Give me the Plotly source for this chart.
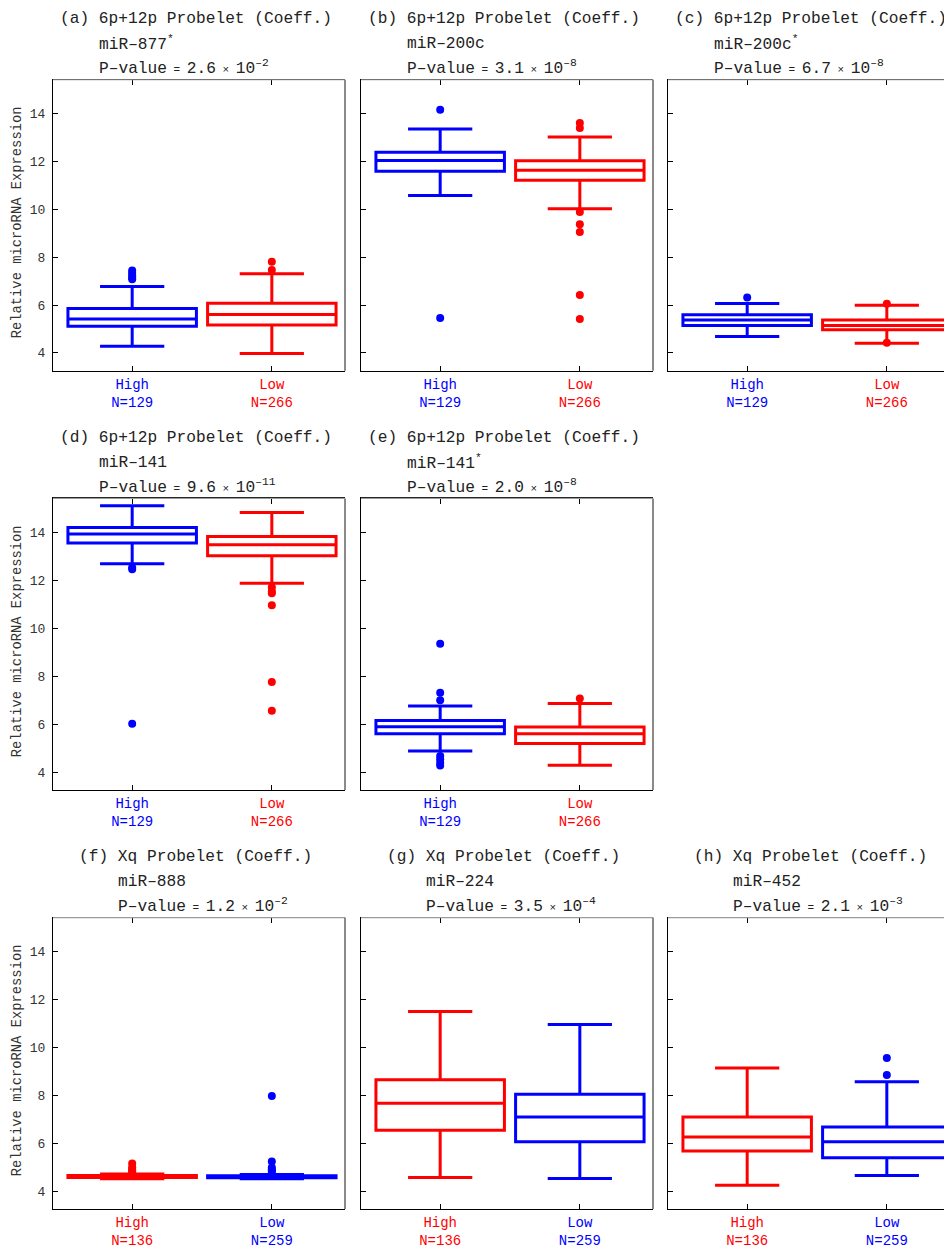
import plotly.graph_objects as go

# ---------------- data ----------------
panel_letters = ["a", "b", "c", "d", "e", "f", "g", "h"]
probelets = ["6p+12p", "6p+12p", "6p+12p", "6p+12p", "6p+12p", "Xq", "Xq", "Xq"]
mirnas = ["miR–877<sup>*</sup>", "miR–200c", "miR–200c<sup>*</sup>", "miR–141",
          "miR–141<sup>*</sup>", "miR–888", "miR–224", "miR–452"]
pvalue_mant = ["2.6", "3.1", "6.7", "9.6", "2.0", "1.2", "3.5", "2.1"]
pvalue_exp = ["–2", "–8", "–8", "–11", "–8", "–2", "–4", "–3"]
n_high = [129, 129, 129, 129, 129, 136, 136, 136]
n_low = [266, 266, 266, 266, 266, 259, 259, 259]
high_is_blue = [True, True, True, True, True, False, False, False]

categories = ["High", "Low"]
y_ticks = [4, 6, 8, 10, 12, 14]

# High group box statistics
high_q1 = [5.11, 11.60, 5.15, 13.56, 5.60, 4.57, 6.54, 5.68]
high_med = [5.42, 12.04, 5.375, 13.93, 5.89, 4.61, 7.67, 6.26]
high_q3 = [5.86, 12.39, 5.60, 14.21, 6.15, 4.65, 8.65, 7.10]
high_lo = [4.28, 10.58, 4.69, 12.69, 4.875, 4.52, 4.57, 4.25]
high_hi = [6.78, 13.36, 6.07, 15.11, 6.76, 4.72, 11.50, 9.14]
high_out = [[7.08, 7.15, 7.25, 7.35, 7.45], [14.17, 5.46], [6.32],
            [12.54, 12.46, 6.01], [9.35, 7.31, 6.99, 4.67, 4.53, 4.39, 4.27],
            [5.15, 5.0, 4.9, 4.85, 4.8], [], []]

# Low group box statistics
low_q1 = [5.17, 11.22, 4.97, 13.03, 5.19, 4.56, 6.06, 5.39]
low_med = [5.61, 11.64, 5.15, 13.49, 5.60, 4.60, 7.10, 6.06]
low_q3 = [6.08, 12.03, 5.375, 13.83, 5.875, 4.64, 8.04, 6.68]
low_lo = [3.97, 10.03, 4.40, 11.88, 4.28, 4.52, 4.53, 4.65]
low_hi = [7.31, 13.03, 5.99, 14.83, 6.86, 4.70, 10.96, 8.57]
low_out = [[7.81, 7.47], [13.61, 13.40, 9.89, 9.38, 9.06, 6.42, 5.42],
           [6.05, 4.42], [11.71, 11.54, 11.46, 10.96, 7.76, 6.56], [7.07],
           [7.97, 5.24, 4.99, 4.9, 4.85, 4.8], [], [9.56, 8.85]]

# ---------------- layout geometry (pixels in the screenshot) ----------------
OFF = 8                       # default page body margin
VW, VH = 952, 1249
W, H = VW - OFF, VH - OFF     # figure size so that it ends at the viewport edge
BLUE = "rgb(0,0,255)"
RED = "rgb(255,0,0)"
FONT = "Courier New, Liberation Mono, monospace"
TITLE_SIZE = 16.2
CW = TITLE_SIZE * 0.6

cols = [(53, 345), (361, 653), (668, 960)]
rows = [(80, 372), (500, 792.5), (920.5, 1213)]
grid = [(0, 0), (0, 1), (0, 2), (1, 0), (1, 1), (2, 0), (2, 1), (2, 2)]
XR = (-0.567, 1.524)
YR = (3.25, 15.42)


def px(x):
    return (x - OFF) / W


def py(y):
    return 1 - (y - OFF) / H


fig = go.Figure()
annotations = []
shapes = []
layout_axes = {}

for i, (r, c) in enumerate(grid):
    n = i + 1
    xa = "x" if n == 1 else f"x{n}"
    ya = "y" if n == 1 else f"y{n}"
    xl, xr = cols[c]
    yt, yb = rows[r]
    xr_clip = min(xr, VW)
    xrange_hi = XR[0] + (XR[1] - XR[0]) * (xr_clip - xl) / (xr - xl)

    hc = BLUE if high_is_blue[i] else RED
    lc = RED if high_is_blue[i] else BLUE

    for pos, col, q1, med, q3, lo, hi, outs in [
        (0, hc, high_q1[i], high_med[i], high_q3[i], high_lo[i], high_hi[i], high_out[i]),
        (1, lc, low_q1[i], low_med[i], low_q3[i], low_lo[i], low_hi[i], low_out[i]),
    ]:
        fig.add_trace(go.Box(
            x=[pos], q1=[q1], median=[med], q3=[q3],
            lowerfence=[lo], upperfence=[hi],
            width=0.92, whiskerwidth=0.5,
            line=dict(color=col, width=3), fillcolor="rgba(0,0,0,0)",
            boxpoints=False, showlegend=False, hoverinfo="skip",
            xaxis=xa, yaxis=ya))
        if outs:
            fig.add_trace(go.Scatter(
                x=[pos] * len(outs), y=outs, mode="markers",
                marker=dict(color=col, size=8), showlegend=False,
                hoverinfo="skip", xaxis=xa, yaxis=ya))

    ticktext = [
        f"<span style='color:{hc}'>{categories[0]}<br>N={n_high[i]}</span>",
        f"<span style='color:{lc}'>{categories[1]}<br>N={n_low[i]}</span>",
    ]
    xkey = "xaxis" if n == 1 else f"xaxis{n}"
    ykey = "yaxis" if n == 1 else f"yaxis{n}"
    layout_axes[xkey] = dict(
        domain=[px(xl), px(xr_clip)], anchor=ya, range=[XR[0], xrange_hi],
        tickvals=[0, 1], ticktext=ticktext, ticks="inside", ticklen=5,
        tickcolor="black", showline=True, linecolor="black", linewidth=1.2,
        mirror="ticks", showgrid=False, zeroline=False, fixedrange=True,
        ticklabelstandoff=0,
        tickfont=dict(family=FONT, size=14))
    layout_axes[ykey] = dict(
        domain=[py(yb), py(yt)], anchor=xa, range=list(YR),
        tickvals=y_ticks, ticks="inside", ticklen=5, tickcolor="black",
        showticklabels=(c == 0), showline=True, linecolor="black",
        linewidth=1.2, mirror=False, showgrid=False, zeroline=False,
        ticklabelstandoff=4,
        tickfont=dict(family=FONT, size=13, color="#333"))

    # gray top/right frame edges
    shapes.append(dict(type="line", xref=f"{xa} domain", yref=f"{ya} domain",
                       x0=0, x1=1, y0=1, y1=1,
                       line=dict(color="#9a9a9a", width=1.2), layer="above"))
    if xr <= VW:
        shapes.append(dict(type="line", xref=f"{xa} domain", yref=f"{ya} domain",
                           x0=1, x1=1, y0=0, y1=1,
                           line=dict(color="#8a8a8a", width=2), layer="above"))

    # titles
    line1 = f"({panel_letters[i]}) {probelets[i]} Probelet (Coeff.)"
    left = xl + 146 - 5 - len(line1) * CW / 2
    sub_left = left + 4 * CW
    tf = dict(family=FONT, size=TITLE_SIZE, color="#222")
    annotations.append(dict(text=line1, x=px(left), y=py(yt - 61),
                            xref="paper", yref="paper", xanchor="left",
                            yanchor="middle", showarrow=False, font=tf))
    annotations.append(dict(text=mirnas[i], x=px(sub_left), y=py(yt - 36),
                            xref="paper", yref="paper", xanchor="left",
                            yanchor="middle", showarrow=False, font=tf))
    ptxt = (f"P–value<span style='font-size:11px'> = </span>{pvalue_mant[i]}"
            f"<span style='font-size:11px'> × </span>10<sup>{pvalue_exp[i]}</sup>")
    annotations.append(dict(text=ptxt, x=px(sub_left), y=py(yt - 12),
                            xref="paper", yref="paper", xanchor="left",
                            yanchor="middle", showarrow=False, font=tf))

# y-axis titles
for (yt, yb) in rows:
    annotations.append(dict(text="Relative microRNA Expression", textangle=-90,
                            x=px(17), y=py((yt + yb) / 2 - 3), xref="paper",
                            yref="paper", xanchor="center", yanchor="middle",
                            showarrow=False,
                            font=dict(family=FONT, size=13.8, color="#333")))

fig.update_layout(
    width=W, height=H, margin=dict(l=0, r=0, t=0, b=0),
    paper_bgcolor="white", plot_bgcolor="white",
    annotations=annotations, shapes=shapes, showlegend=False,
    **layout_axes)

fig.write_html("out.html")
